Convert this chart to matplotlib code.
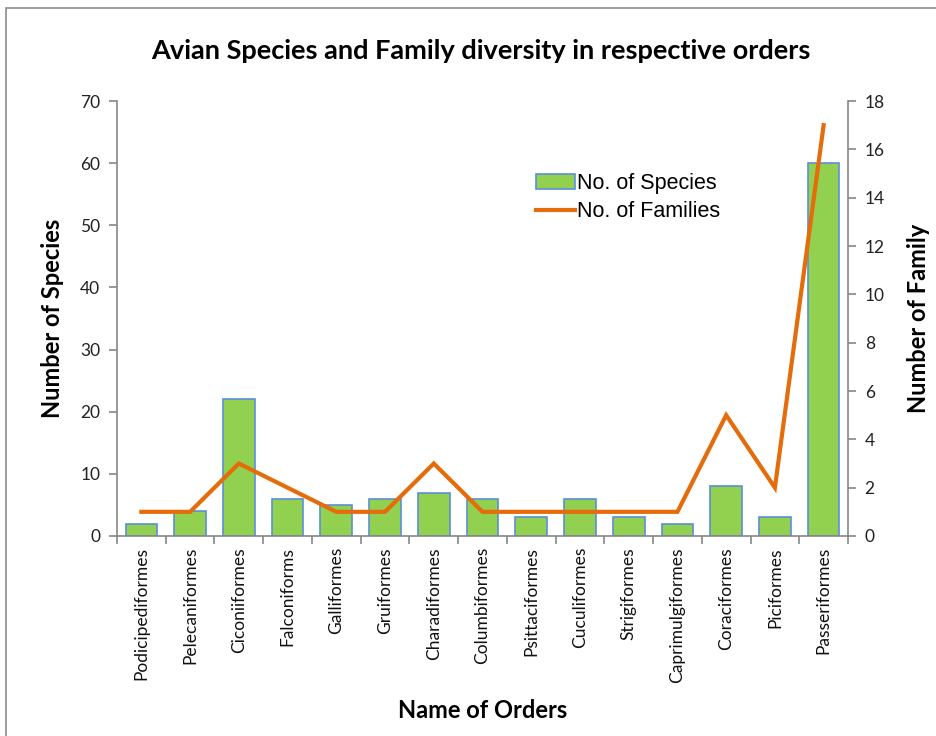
import matplotlib
matplotlib.use("Agg")
import matplotlib.pyplot as plt
from matplotlib.patches import Rectangle
import numpy as np

orders = ["Podicipediformes", "Pelecaniformes", "Ciconiiformes", "Falconiforms",
          "Galliformes", "Gruiformes", "Charadiformes", "Columbiformes",
          "Psittaciformes", "Cuculiformes", "Strigiformes", "Caprimulgiformes",
          "Coraciformes", "Piciformes", "Passeriformes"]
species = [2, 4, 22, 6, 5, 6, 7, 6, 3, 6, 3, 2, 8, 3, 60]
families = [1, 1, 3, 2, 1, 1, 3, 1, 1, 1, 1, 1, 5, 2, 17]

font = "Lato"
axis_grey = "#868686"

fig = plt.figure(figsize=(9.36, 7.36), dpi=100)
ax = fig.add_axes([117 / 936, 1 - 536 / 736, (848 - 117) / 936, (536 - 101) / 736])

# chart frame
fig.patches.append(Rectangle((6 / 936, -0.01), 1.0, 1 - 8 / 736 + 0.01,
                             transform=fig.transFigure, fill=False,
                             edgecolor="#8c8c8c", linewidth=1.2))

x = np.arange(len(orders))
bars = ax.bar(x, species, width=0.65, color="#92D050", edgecolor="#5B8FD8",
              linewidth=1.2, label="No. of Species", zorder=2)
ax.set_xlim(-0.5, len(orders) - 0.5)
ax.set_ylim(0, 70)
ax.set_yticks(np.arange(0, 71, 10))

ax2 = ax.twinx()
line, = ax2.plot(x, families, color="#E46C0A", linewidth=3.0,
                 solid_joinstyle="miter", label="No. of Families", zorder=3)
ax2.set_ylim(0, 18)
ax2.set_yticks(np.arange(0, 19, 2))

for a in (ax, ax2):
    a.spines["top"].set_visible(False)
    for s in ("left", "right", "bottom"):
        a.spines[s].set_color(axis_grey)
        a.spines[s].set_linewidth(1.2)
    a.tick_params(axis="y", direction="out", length=6, width=1.2, color=axis_grey,
                  labelsize=12.5, pad=6)
    for lbl in a.get_yticklabels():
        lbl.set_fontfamily(font)
        lbl.set_color("#222222")
ax2.spines["left"].set_visible(False)
ax2.spines["bottom"].set_visible(False)
ax.spines["right"].set_visible(False)

# category boundary ticks on the x axis
ax.set_xticks(np.arange(-0.5, len(orders), 1.0))
ax.set_xticklabels([])
ax.tick_params(axis="x", which="major", direction="out", length=6, width=1.2,
               color=axis_grey)
ax.set_xticks(x, minor=True)
ax.set_xticklabels(orders, minor=True, rotation=90, fontsize=12.5,
                   fontfamily=font, color="#111111")
ax.tick_params(axis="x", which="minor", length=0, pad=8)

ax.set_ylabel("Number of Species", fontsize=17, fontweight="bold",
              fontfamily=font, labelpad=12)
ax2.set_ylabel("Number of Family", fontsize=17, fontweight="bold",
               fontfamily=font, labelpad=16)
ax.set_xlabel("Name of Orders", fontsize=17, fontweight="bold",
              fontfamily=font, labelpad=12)

fig.text(481 / 936, 1 - 51 / 736, "Avian Species and Family diversity in respective orders",
         ha="center", va="center", fontsize=19.5, fontweight="bold", fontfamily=font)

leg = ax2.legend([bars, line], ["No. of Species", "No. of Families"],
                 loc="upper left", bbox_to_anchor=(0.562, 0.855), frameon=False,
                 prop={"family": "Liberation Sans", "size": 15.5},
                 handlelength=1.8, handletextpad=0.1, labelspacing=0.35,
                 borderaxespad=0)

fig.savefig("out.png", dpi=100)
